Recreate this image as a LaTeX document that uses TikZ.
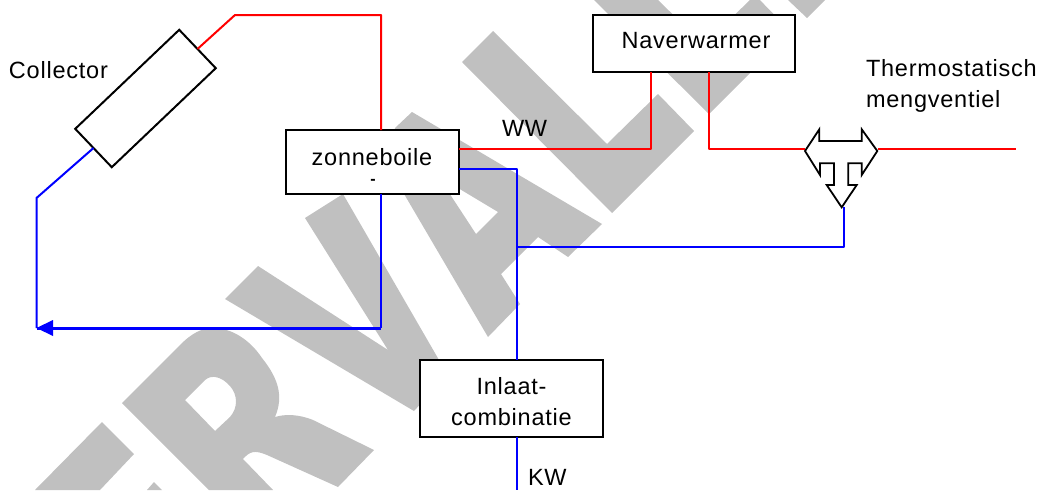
\documentclass[tikz,border=0pt]{standalone}
\usepackage{fontspec}
\setmainfont[LetterSpace=3.3]{Liberation Sans}
\usetikzlibrary{arrows.meta}
\definecolor{wm}{HTML}{C0C0C0}
\tikzset{
  x=1pt,y=-1pt,
  every node/.style={font=\fontsize{23.5}{30.5}\selectfont,text=black,inner sep=0pt,outer sep=0pt},
  box/.style={draw=black,line width=2pt,fill=white,align=center},
  hot/.style={draw=red,line width=2pt,line join=round},
  cold/.style={draw=blue,line width=2pt,line join=round},
  lbl/.style={anchor=west},
}
\begin{document}
\begin{tikzpicture}
\useasboundingbox (0,0) rectangle (1038,490);
\fill[white] (0,0) rectangle (1038,490);
\begin{scope}
\clip (0,0) rectangle (1038,490);
% watermark letters
\fill[wm] (102,422) -- (134,454) -- (100,490) -- (35,490) -- cycle;
\fill[wm] (147,490) -- (154,482) -- (162,490) -- cycle;
\fill[wm,even odd rule] (122,403) -- (180,345) .. controls (192,333) and (202,328) .. (213,328)
  .. controls (232,328) and (250,340) .. (262,358) .. controls (278,378) and (284,396) .. (275,417)
  .. controls (285,414) and (298,414) .. (313,420) -- (374,450) -- (338,487) -- (267,455)
  .. controls (255,450) and (250,451) .. (243,459) -- (273,490) -- (209,490) -- cycle
  (185,400) -- (205,380) .. controls (212,374) and (222,377) .. (230,386)
  .. controls (238,395) and (238,408) .. (230,417) -- (215,431) -- cycle;
\fill[wm] (258,266) -- (388,350) -- (305,218) -- (343,194) -- (439,360) -- (450,372) -- (414,411) -- (225,299) -- cycle;
\fill[wm,even odd rule] (412,112) -- (602,224) -- (568,257) -- (538,237) -- (501,274) -- (520,304) -- (488,337) -- (390,170) -- (395,128) -- cycle
  (438,176) -- (498,212) -- (476,234) -- cycle;
\fill[wm] (493,31) -- (607,144) -- (658,94) -- (694,131) -- (612,213) -- (462,62) -- cycle;
\fill[wm] (658,0) -- (704,45) -- (755,-5) -- (791,32) -- (709,114) -- (594,0) -- cycle;
\fill[wm] (788,0) -- (807,18) -- (825,0) -- cycle;
\end{scope}
% nodes
\node[box,rotate=43.6,minimum width=143.6pt,minimum height=53pt] (coll) at (145.5,98.5) {};
\node[box,minimum width=173pt,minimum height=63.5pt] (boil) at (372.75,161.75) {};
\node (boiltxt) at (372,157) {zonneboile};
\node[font=\fontsize{16}{16}\bfseries\selectfont] (boildash) at (373,182) {-};
\node[box,minimum width=202pt,minimum height=57pt] (nav) at (694,43.5) {};
\node (navtxt) at (696,41) {Naverwarmer};
\node[box,minimum width=183pt,minimum height=77pt] (inl) at (511.5,398.5) {};
\node[align=center] (inltxt) at (511.5,401.5) {Inlaat-\\combinatie};
\node[lbl] (tcoll) at (9,70) {Collector};
\node[lbl] (tww) at (502,128) {WW};
\node[lbl] (tkw) at (528,477) {KW};
\node[lbl,align=left] (tmeng) at (866,85.5) {Thermostatisch\\[0.5pt]mengventiel};
% free ends and bends
\coordinate (r1) at (235,15);
\coordinate (r2) at (381,15);
\coordinate (b1) at (36.5,198);
\coordinate (b2) at (36.5,328);
\coordinate (b3) at (381,328);
\coordinate (ww) at (651,149);
\coordinate (ww2) at (709,149);
\coordinate (vl) at (805,149);
\coordinate (vr) at (878,149);
\coordinate (rend) at (1016,149);
\coordinate (c1) at (517,169);
\coordinate (c2) at (517,247);
\coordinate (c3) at (843.5,247);
\coordinate (vb) at (843.5,207);
\coordinate (kw) at (517,490);
% connectors
\draw[hot] (coll.east) -- (r1) -- (r2) -- (r2 |- boil.north);
\draw[hot] ([yshift=12.75pt]boil.east) -- (ww) -- (ww |- nav.south);
\draw[hot] (ww2 |- nav.south) -- (ww2) -- (vl);
\draw[hot] (vr) -- (rend);
\draw[cold] (coll.west) -- (b1) -- (b2);
\draw[draw=blue,line width=3pt] (b3) -- (b2);
\draw[cold] (r2 |- boil.south) -- (b3);
\fill[blue] (b2) -- (53,320) -- (53,336) -- cycle;
\draw[cold] ([yshift=-7.25pt]boil.east) -- (c1) -- (c1 |- inl.north);
\draw[cold] (c2) -- (c3) -- (vb);
\draw[cold] (c1 |- inl.south) -- (kw);
% valve
\draw[black,line width=1.8pt,line join=miter,fill=white] (805,151) -- (819.3,129.3) -- (819.3,141) -- (861.7,141) -- (861.7,129.3) -- (877.3,151) -- (861.7,175) -- (861.7,163.3) -- (848.3,163.3) -- (848.3,185) -- (856.7,185) -- (841.7,207.3) -- (826.7,185) -- (834,185) -- (834,163.3) -- (820,163.3) -- (820,175) -- cycle;
\end{tikzpicture}
\end{document}
